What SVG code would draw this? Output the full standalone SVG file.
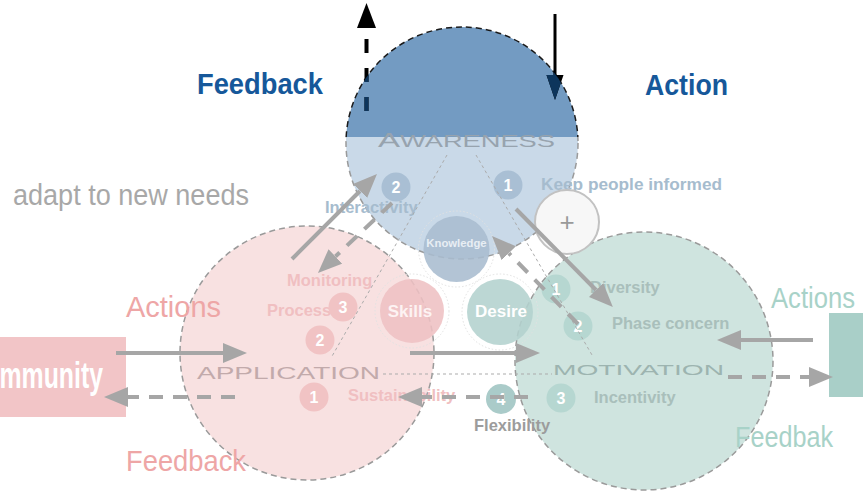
<svg xmlns="http://www.w3.org/2000/svg" width="863" height="492" viewBox="0 0 863 492">
<style>
.big{stroke:#9a9a9a;stroke-width:1.5;stroke-dasharray:6 4}
.tri{fill:none;stroke:#ababab;stroke-width:1;stroke-dasharray:3 3}
.lbl{font-family:"Liberation Sans",Arial,sans-serif;font-weight:bold;font-size:16.5px}
.num{font-family:"Liberation Sans",Arial,sans-serif;font-weight:bold;font-size:16px;fill:#fff;text-anchor:middle}
.cap{font-family:"Liberation Sans",Arial,sans-serif}
.head{font-family:"Liberation Sans",Arial,sans-serif;font-size:30px}
.ring{fill:none;stroke:#e2e2e2;stroke-width:1;stroke-dasharray:1.5 2}
.g{fill:none;stroke:#a6a6a6;stroke-width:4}
.gd{fill:none;stroke:#a6a6a6;stroke-width:4;stroke-dasharray:14 10}
</style>
<defs>
<clipPath id="topClip"><rect x="0" y="0" width="863" height="137"/></clipPath>
<clipPath id="botClip"><rect x="0" y="137" width="863" height="400"/></clipPath>
<clipPath id="awClip"><circle cx="462" cy="143" r="116"/></clipPath>
<marker id="ah" markerUnits="userSpaceOnUse" markerWidth="24" markerHeight="20" refX="0" refY="10" orient="auto" viewBox="0 0 24 20">
<path d="M0,0 L24,10 L0,20 z" fill="#a6a6a6"/>
</marker>
</defs>

<g id="awareness">
<circle cx="462" cy="143" r="116" fill="#c9d9e8" clip-path="url(#botClip)"/>
<circle cx="462" cy="143" r="116" fill="#15589a" fill-opacity="0.6" clip-path="url(#topClip)"/>
<circle cx="462" cy="143" r="116" fill="none" class="big" clip-path="url(#botClip)"/>
<circle cx="462" cy="143" r="116" fill="none" stroke="#1a1a1a" stroke-width="1.5" stroke-dasharray="6 4" clip-path="url(#topClip)"/>
<text class="cap" x="378" y="147" fill="#97a3ae" textLength="177" lengthAdjust="spacingAndGlyphs"><tspan font-size="20">A</tspan><tspan font-size="16.5">WARENESS</tspan></text>
<circle cx="396" cy="187" r="14.5" fill="#a9bfd4"/>
<text class="num" x="396" y="193">2</text>
<circle cx="508" cy="185" r="14.5" fill="#a9bfd4"/>
<text class="num" x="508" y="191">1</text>
<text class="lbl" x="325" y="213" fill="#a6bcce">Interactivity</text>
<text class="lbl" x="541" y="190" fill="#a6bcce" textLength="181" lengthAdjust="spacingAndGlyphs">Keep people informed</text>
</g>

<g id="application">
<circle cx="307" cy="353" r="127" fill="#f8e1e1" class="big"/>
<text class="cap" x="197" y="378.5" font-size="16" fill="#c2aaab" textLength="183" lengthAdjust="spacingAndGlyphs">APPLICATION</text>
<text class="lbl" x="287" y="286" fill="#f0bfc1">Monitoring</text>
<text class="lbl" x="267" y="316" fill="#f0bfc1">Process</text>
<circle cx="343" cy="307" r="14.5" fill="#f1c3c4"/>
<text class="num" x="343" y="313">3</text>
<circle cx="320" cy="340" r="14.5" fill="#f1c3c4"/>
<text class="num" x="320" y="346">2</text>
<circle cx="314" cy="397" r="14.5" fill="#f1c3c4"/>
<text class="num" x="314" y="403">1</text>
<text class="lbl" x="348" y="401" fill="#f0bfc1">Sustainability</text>
</g>

<g id="motivation">
<circle cx="644" cy="361" r="129" fill="#cfe4df" class="big"/>
<text class="cap" x="553" y="375" font-size="15.5" fill="#9db4b0" textLength="171" lengthAdjust="spacingAndGlyphs">MOTIVATION</text>
<circle cx="556" cy="289" r="14.5" fill="#b6d7d1"/>
<text class="num" x="556" y="295">1</text>
<circle cx="578" cy="326" r="14.5" fill="#b6d7d1"/>
<text class="num" x="578" y="332">2</text>
<circle cx="561" cy="398" r="14.5" fill="#b6d7d1"/>
<text class="num" x="561" y="404">3</text>
<text class="lbl" x="590" y="293" fill="#a9bfbb">Diversity</text>
<text class="lbl" x="612" y="329" fill="#a9bfbb">Phase concern</text>
<text class="lbl" x="594" y="403" fill="#a9bfbb">Incentivity</text>
</g>

<g id="flexibility">
<circle cx="501" cy="399" r="15" fill="#aacbc9"/>
<text class="num" x="501" y="405">4</text>
<text class="lbl" x="474" y="431" fill="#9c9c9c">Flexibility</text>
</g>

<g id="knowledge">
<circle cx="456.5" cy="249" r="38" class="ring"/>
<circle cx="456.5" cy="249" r="33" fill="#a9bccf" fill-opacity="0.88"/>
<text x="456.5" y="247" text-anchor="middle" font-family="Liberation Sans, Arial, sans-serif" font-weight="bold" font-size="11.3" fill="#e8eef4">Knowledge</text>
</g>

<g id="skills">
<circle cx="412" cy="311" r="37" class="ring"/>
<circle cx="412" cy="311" r="32" fill="#eec0c3" fill-opacity="0.88"/>
<text x="410" y="317" text-anchor="middle" font-family="Liberation Sans, Arial, sans-serif" font-weight="bold" font-size="17" fill="#fdf3f3">Skills</text>
</g>

<g id="desire">
<circle cx="500" cy="312" r="38" class="ring"/>
<circle cx="500" cy="312" r="33" fill="#b3d2ce" fill-opacity="0.88"/>
<text x="501" y="317" text-anchor="middle" font-family="Liberation Sans, Arial, sans-serif" font-weight="bold" font-size="17" fill="#ffffff">Desire</text>
</g>

<g id="plus">
<circle cx="567" cy="222" r="32" fill="#f7f7f7" stroke="#c2c2c2" stroke-width="2"/>
<text x="567" y="231" text-anchor="middle" font-family="Liberation Sans, Arial, sans-serif" font-size="26" fill="#9a9a9a">+</text>
</g>

<g id="community">
<rect x="0" y="337" width="126" height="80" fill="#f2c5c7"/>
<text x="-33.6" y="388" font-family="Liberation Sans, Arial, sans-serif" font-weight="bold" font-size="36" fill="#ffffff" textLength="136.6" lengthAdjust="spacingAndGlyphs">Community</text>
</g>

<g id="partner">
<rect x="829" y="313" width="40" height="84" fill="#a9cfc8"/>
</g>

<g id="connectors">
<line class="tri" x1="447" y1="155" x2="331" y2="358"/>
<line class="tri" x1="476" y1="155" x2="592" y2="355"/>
<line class="tri" x1="383" y1="374" x2="552" y2="374"/>
<path class="g" d="M292,259 L360,191" marker-end="url(#ah)"/>
<path class="gd" d="M392,203 L335.4,256.5" marker-end="url(#ah)"/>
<path class="g" d="M516,209 L596,290" marker-end="url(#ah)"/>
<path class="gd" d="M578,324 L508.8,253.2" marker-end="url(#ah)"/>
<path class="g" d="M410,353 L516,353" marker-end="url(#ah)"/>
<path class="gd" d="M528,397 L422,397" marker-end="url(#ah)"/>
<path class="g" d="M116,353 L223,353" marker-end="url(#ah)"/>
<path class="gd" d="M235,397 L128,397" marker-end="url(#ah)"/>
<path class="g" d="M813,340 L741,340" marker-end="url(#ah)"/>
<path class="gd" d="M728,377 L809,377" marker-end="url(#ah)"/>
<g id="top-arrows">
<line x1="366.5" y1="111" x2="366.5" y2="28" stroke="#000" stroke-width="4" stroke-dasharray="14 15"/>
<polygon points="357,28 376,28 366.5,3" fill="#000"/>
<line x1="555" y1="14" x2="555" y2="75" stroke="#000" stroke-width="3"/>
<polygon points="546.5,75 563.5,75 555,100" fill="#000"/>
</g>
<g clip-path="url(#awClip)">
<line x1="366.5" y1="111" x2="366.5" y2="28" stroke="#0d355c" stroke-width="4" stroke-dasharray="14 15"/>
<polygon points="357,28 376,28 366.5,3" fill="#0d355c"/>
<line x1="555" y1="14" x2="555" y2="75" stroke="#0d355c" stroke-width="3"/>
<polygon points="546.5,75 563.5,75 555,100" fill="#0d355c"/>
</g>
</g>

<g id="labels">
<text class="head" x="197" y="94" font-weight="bold" fill="#16589a" textLength="126" lengthAdjust="spacingAndGlyphs">Feedback</text>
<text class="head" x="645" y="95" font-weight="bold" fill="#16589a" textLength="83" lengthAdjust="spacingAndGlyphs">Action</text>
<text class="head" x="13" y="205" font-size="27" fill="#a8a8a8" textLength="236" lengthAdjust="spacingAndGlyphs">adapt to new needs</text>
<text class="head" x="126" y="317" fill="#eea6a6" textLength="95" lengthAdjust="spacingAndGlyphs">Actions</text>
<text class="head" x="126" y="471" font-size="31" fill="#eea6a6" textLength="120" lengthAdjust="spacingAndGlyphs">Feedback</text>
<text class="head" x="771" y="308" font-size="28" fill="#a8d2c8" textLength="84" lengthAdjust="spacingAndGlyphs">Actions</text>
<text class="head" x="735" y="447" font-size="29" fill="#a8d2c8" textLength="98" lengthAdjust="spacingAndGlyphs">Feedbak</text>
</g>
</svg>
